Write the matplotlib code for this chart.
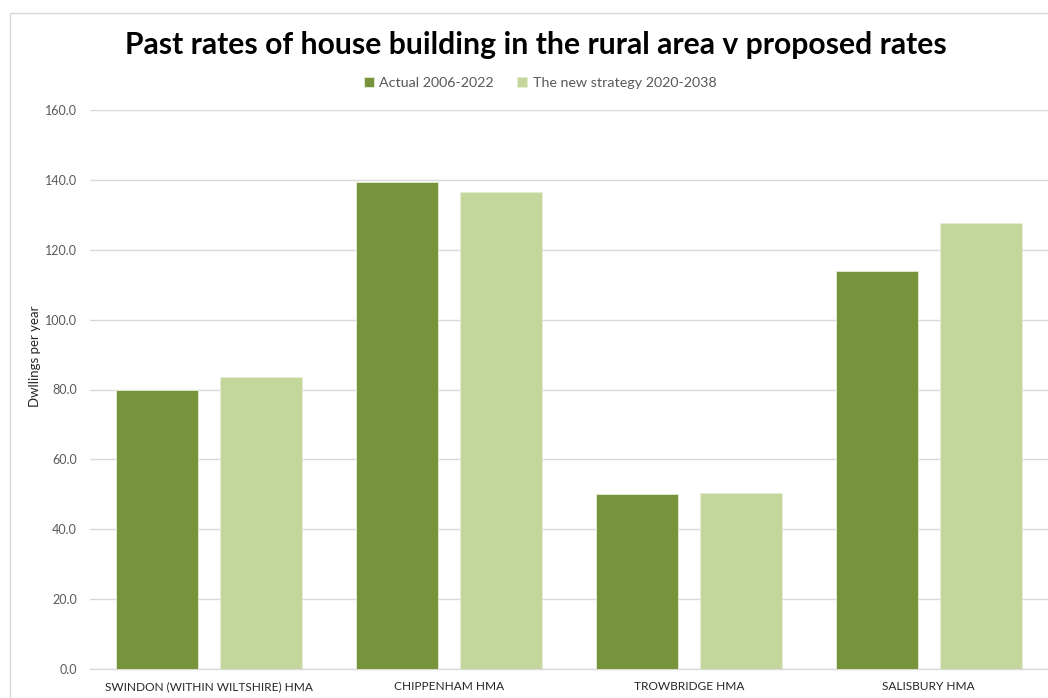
import matplotlib
matplotlib.use("Agg")
import matplotlib.pyplot as plt
from matplotlib.patches import Rectangle
import numpy as np

# Chart data
categories = ['SWINDON (WITHIN WILTSHIRE) HMA', 'CHIPPENHAM HMA',
              'TROWBRIDGE HMA', 'SALISBURY HMA']
actual = [80.0, 139.5, 50.0, 114.0]
proposed = [83.7, 136.4, 50.5, 127.6]
series_names = ['Actual 2006-2022', 'The new strategy 2020-2038']
y_ticks = [0, 20, 40, 60, 80, 100, 120, 140, 160]

plt.rcParams['font.family'] = ['Lato', 'DejaVu Sans']

fig = plt.figure(figsize=(10.48, 6.98), dpi=100)
ax = fig.add_axes([89.5 / 1048, 1 - 669 / 698, 1 - 89.5 / 1048 + 0.0005, (669 - 110) / 698])

x = np.arange(len(categories))
width = 0.342
offset = 0.217
ax.bar(x - offset, actual, width, color='#77933C', edgecolor='#E6EDD7',
       linewidth=0.6, label=series_names[0], zorder=3)
ax.bar(x + offset, proposed, width, color='#C3D69B', edgecolor='#E6EDD7',
       linewidth=0.6, label=series_names[1], zorder=3)

ax.set_xlim(-0.5, 3.5)
ax.set_ylim(0, 160)
ax.set_yticks(y_ticks)
ax.set_yticklabels([f'{v:.1f}' for v in y_ticks], color='#595959', fontsize=9)
ax.set_xticks(x)
ax.set_xticklabels(categories, color='#262626', fontsize=8.6)
ax.tick_params(axis='both', length=0)
ax.tick_params(axis='y', pad=9)
ax.tick_params(axis='x', pad=9)

ax.grid(axis='y', color='#D9D9D9', linewidth=1, zorder=0)
for side in ['top', 'right', 'left']:
    ax.spines[side].set_visible(False)
ax.spines['bottom'].set_color('#D9D9D9')
ax.spines['bottom'].set_linewidth(1)

fig.text(35 / 1048, 1 - 356 / 698, 'Dwllings per year', rotation=90,
         ha='center', va='center', fontsize=9.5, color='#262626')

fig.text(536 / 1048, 1 - 45 / 698,
         'Past rates of house building in the rural area v proposed rates',
         ha='center', va='center', fontsize=21.7, fontweight='bold', color='black')

leg = fig.legend(loc='center', bbox_to_anchor=(540 / 1048, 1 - 83 / 698), ncol=2,
                 frameon=False, fontsize=10.3, handlelength=0.7, handleheight=0.7,
                 handletextpad=0.4, columnspacing=1.6)
for t in leg.get_texts():
    t.set_color('#595959')

# thin chart border like the spreadsheet chart area
fig.patches.append(Rectangle((10 / 1048, -0.1), 1.2, 1 - 13 / 698 + 0.1,
                             transform=fig.transFigure, fill=False,
                             edgecolor='#D9D9D9', linewidth=1))

fig.savefig('out.png', dpi=100)
